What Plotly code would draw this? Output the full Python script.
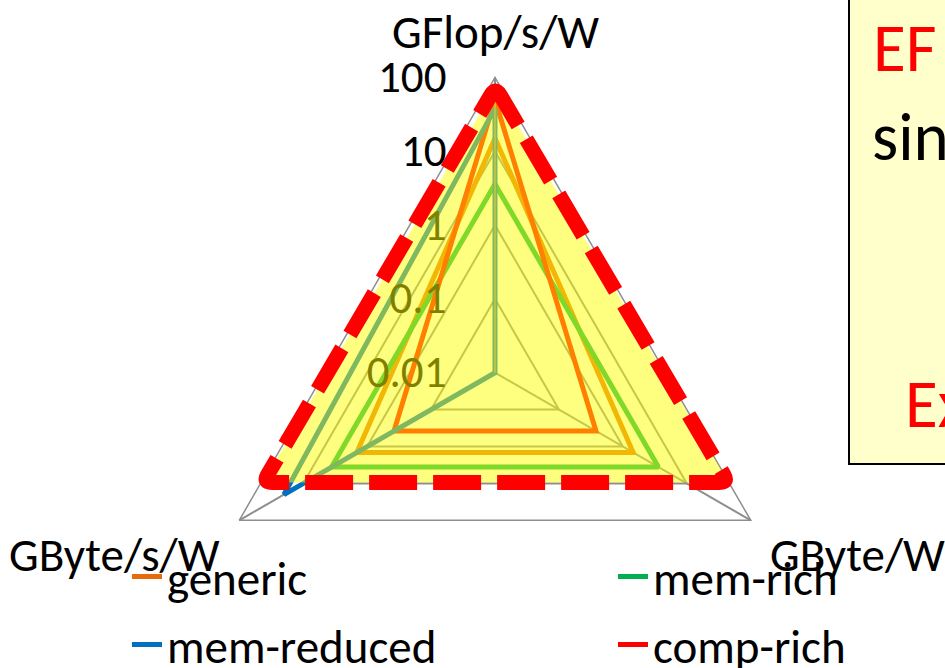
import math
import plotly.graph_objects as go

# ---- data ----
axes_labels = ["GFlop/s/W", "GByte/W", "GByte/s/W"]
generic = [15, 1.45, 1.45]
mem_rich = [3.6, 3.6, 3.6]
mem_reduced = [38, 0.01, 20]
comp_rich = [50, 0.38, 0.38]
radial_ticks = [0.01, 0.1, 1, 10, 100]
radial_ticktext = ["0.01", "0.1", "1", "10", "100"]

W, H = 945, 668
FONT = "Carlito, Lato, sans-serif"
GRID = "#8E8E8E"


def closed(v):
    return list(v) + [v[0]]


theta = closed(axes_labels)

# name, values, colour, legend id, legend item position (text-left px, line-center px)
series = [
    ("generic", generic, "#E46C0A", "legend", (172, 577)),
    ("mem-rich", mem_rich, "#00B050", "legend2", (658, 577)),
    ("comp-rich", comp_rich, "#FF0000", "legend3", (658, 645)),
    ("mem-reduced", mem_reduced, "#0070C0", "legend4", (172, 645)),
]

fig = go.Figure()
legends = {}
for name, vals, col, lg, (lx, ly) in series:
    fig.add_trace(go.Scatterpolar(
        r=closed(vals), theta=theta, mode="lines", name=name,
        line=dict(color=col, width=5), legend=lg, cliponaxis=False,
    ))
    legends[lg] = dict(x=(lx - 45) / W, y=1 - ly / H, xanchor="left", yanchor="middle",
                       font=dict(size=47, family=FONT, color="black"),
                       bgcolor="rgba(0,0,0,0)", borderwidth=0)

# polar geometry (pixels)
cx, cy, rad = 495, 372.7, 295.3
fig.update_layout(
    width=W, height=H, autosize=False,
    margin=dict(l=0, r=0, t=0, b=0, autoexpand=False),
    paper_bgcolor="white", plot_bgcolor="white",
    font=dict(family=FONT, color="black"),
    polar=dict(
        domain=dict(x=[(cx - rad) / W, (cx + rad) / W],
                    y=[(H - cy - rad) / H, (H - cy + rad) / H]),
        gridshape="linear",
        bgcolor="rgba(0,0,0,0)",
        radialaxis=dict(
            type="log", range=[-2, 2], angle=90,
            tickvals=radial_ticks, ticktext=radial_ticktext,
            tickfont=dict(size=45, family=FONT, color="black"),
            tickangle=90,
            showline=True, linecolor=GRID, linewidth=1.5,
            gridcolor=GRID, gridwidth=1.5,
            ticks="outside", ticklen=32, tickcolor="rgba(0,0,0,0)",
            side="counterclockwise",
        ),
        angularaxis=dict(
            type="category", categoryarray=axes_labels,
            direction="clockwise", rotation=90,
            showline=True, linecolor=GRID, linewidth=1.5,
            gridcolor=GRID, gridwidth=1.5,
            ticks="", showticklabels=False,
        ),
    ),
    showlegend=True,
    **legends,
)


def P(px, py):
    return px / W, 1 - py / H


# category labels placed just outside each vertex of the radar
lab_off = [(1, -45, "center"), (17, 35, "left"), (-17, 35, "right")]
for i, lab in enumerate(axes_labels):
    ang = math.radians(90 - 120 * i)
    vx, vy = cx + rad * math.cos(ang), cy - rad * math.sin(ang)
    dx, dy, xa = lab_off[i]
    x, y = P(vx + dx, vy + dy)
    fig.add_annotation(x=x, y=y, xref="paper", yref="paper", text=lab, showarrow=False,
                       xanchor=xa, yanchor="middle",
                       font=dict(size=47, family=FONT, color="black"))

# highlight overlay triangle (translucent yellow, red dashed border, rounded corners)
tri = [(495.5, 87), (728.5, 482.5), (263, 482.5)]
rc = 9.0
segs = []
for i, (vx, vy) in enumerate(tri):
    px_, py_ = tri[i - 1]
    nx_, ny_ = tri[(i + 1) % 3]
    dp = math.hypot(px_ - vx, py_ - vy)
    dn = math.hypot(nx_ - vx, ny_ - vy)
    a = (vx + (px_ - vx) * rc / dp, vy + (py_ - vy) * rc / dp)
    b = (vx + (nx_ - vx) * rc / dn, vy + (ny_ - vy) * rc / dn)
    segs.append((a, (vx, vy), b))
path = ""
for k, (a, v, b) in enumerate(segs):
    A, V, B = P(*a), P(*v), P(*b)
    path += ("M" if k == 0 else "L") + " {} {} Q {} {} {} {} ".format(A[0], A[1], V[0], V[1], B[0], B[1])
path += "Z"
fig.add_shape(type="path", xref="paper", yref="paper", path=path,
              fillcolor="rgba(255,255,0,0.5)",
              line=dict(color="#FF0000", width=15, dash="48px,16px"), layer="above")

# text box on the right
bx0, by0 = P(849, -10)
bx1, by1 = P(980, 464)
fig.add_shape(type="rect", xref="paper", yref="paper", x0=bx0, y0=by1, x1=bx1, y1=by0,
              fillcolor="#FFFFCC", line=dict(color="black", width=2), layer="above")

for txt, px, py, col in [("EF", 871, 48, "#FF0000"), ("sin", 870, 137, "black"), ("Ex", 903, 404, "#FF0000")]:
    x, y = P(px, py)
    fig.add_annotation(x=x, y=y, xref="paper", yref="paper", text=txt, showarrow=False,
                       xanchor="left", yanchor="middle",
                       font=dict(size=67, family=FONT, color=col))

fig.write_html("out.html", config={"displayModeBar": False},
               post_script="document.body.style.margin='0px';")
